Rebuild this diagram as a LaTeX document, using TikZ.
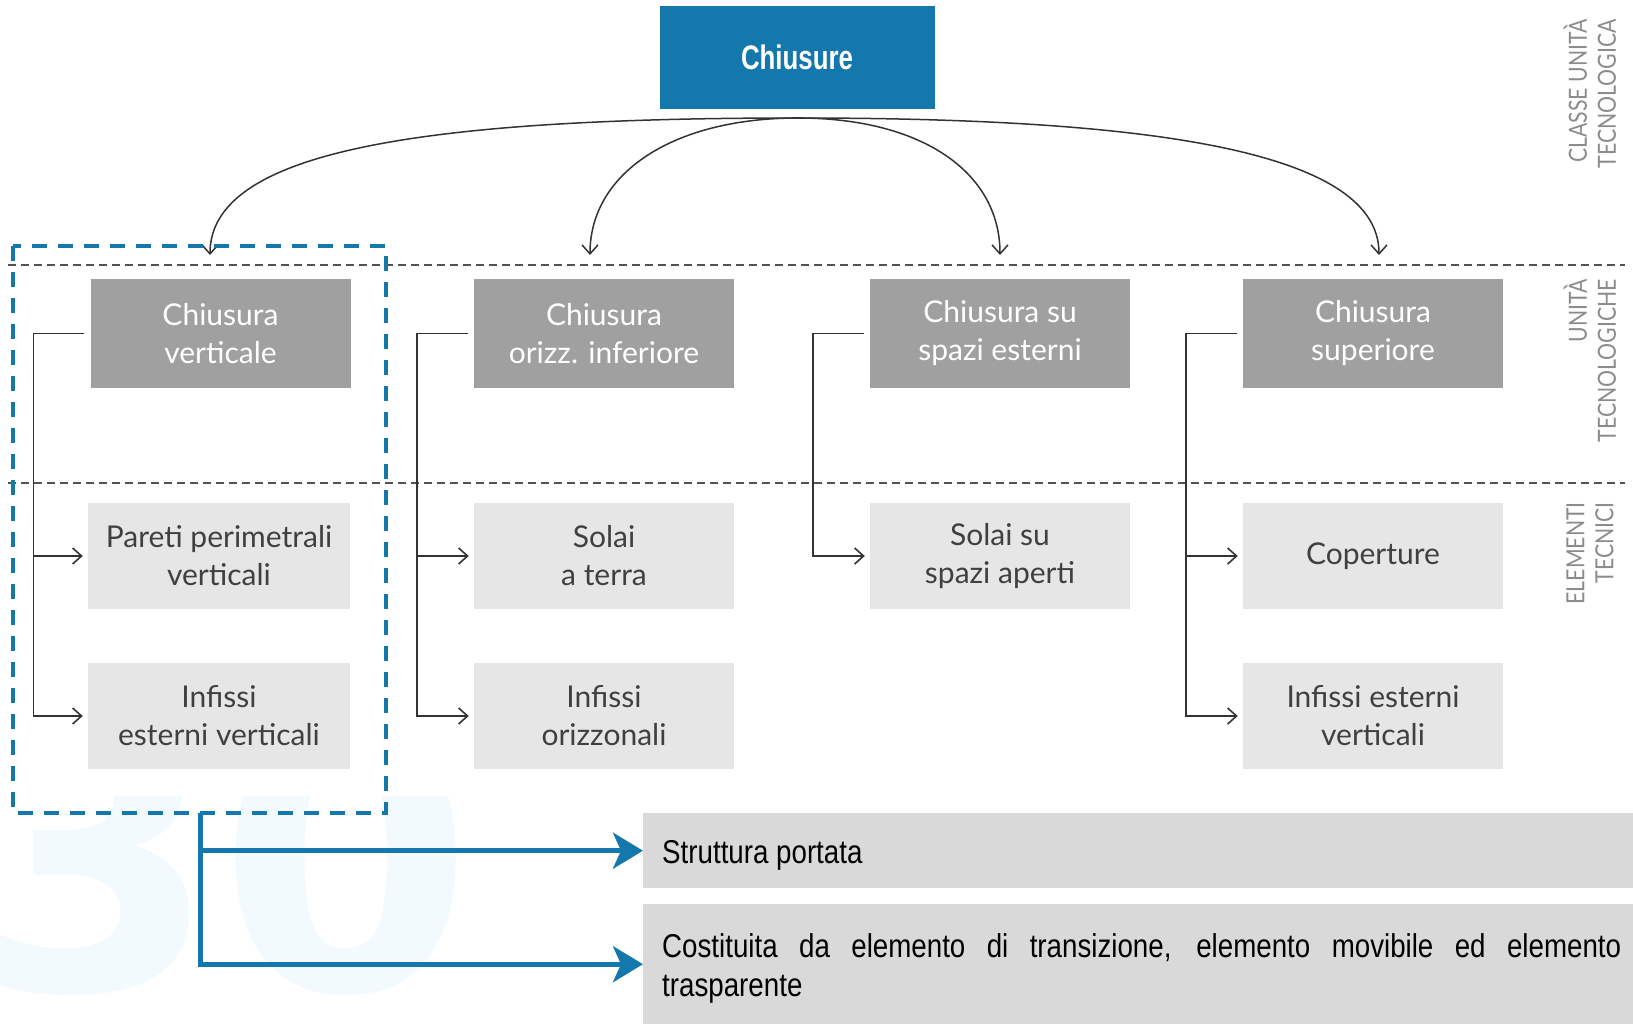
\documentclass[tikz,border=0pt]{standalone}
\usepackage{fontspec}
\setmainfont{Lato}
\newfontfamily\condfont[FakeStretch=0.84]{Liberation Sans}
\newfontfamily\titlefont[FakeStretch=0.76]{Liberation Sans}
\newfontfamily\sidefont[FakeStretch=0.85]{Lato}
\newfontfamily\markfont{DejaVu Sans}
\usetikzlibrary{arrows.meta,positioning}

\definecolor{chblue}{RGB}{20,120,172}
\definecolor{hdrgray}{RGB}{160,160,160}
\definecolor{itemgray}{RGB}{230,230,230}
\definecolor{notegray}{RGB}{217,217,217}
\definecolor{linegray}{RGB}{51,51,51}
\definecolor{textgray}{RGB}{64,64,64}
\definecolor{sidegray}{RGB}{140,140,140}
\definecolor{markblue}{RGB}{243,250,254}

\tikzset{
    unit/.style={fill=hdrgray, text=white, align=center, inner sep=0pt,
        minimum width=260pt, minimum height=109pt,
        font=\fontsize{30}{38}\selectfont},
    element/.style={unit, fill=itemgray, text=textgray, minimum height=106pt},
    tree/.style={draw=linegray, line width=1.6pt,
        -{Straight Barb[length=9pt,width=16pt,line width=1.6pt]}},
    fork/.style={draw=linegray, line width=1.5pt,
        -{Straight Barb[length=9pt,width=16pt,line width=1.5pt]}},
    level/.style={draw=linegray!85, line width=1.1pt, dash pattern=on 8pt off 5pt},
    note/.style={fill=notegray, anchor=north west, inner xsep=19pt, inner ysep=0pt,
        text width=959pt, text height=33pt, align=justify,
        font=\condfont\fontsize{33}{39}\selectfont},
    sidelbl/.style={rotate=90, anchor=east, align=right, inner sep=0pt,
        text=sidegray, font=\sidefont\fontsize{25}{29}\selectfont},
}
% bracket from a unit to one of its elements
\newcommand\UnitLink[2]{%
    \draw[tree] ([xshift=-6pt]#1.west) -- ++(-51,0) |- ([xshift=-5pt]#2.west);
}

\begin{document}
\begin{tikzpicture}[x=1pt,y=-1pt]
    \useasboundingbox (0,0) rectangle (1633,1024);
    % watermark
    \begin{scope}
        \clip (0,796) rectangle (1633,1024);
        \node[anchor=base west, inner sep=0pt, text=markblue,
            font=\markfont\bfseries\fontsize{367}{367}\selectfont] (wm) at (-37,990) {30};
    \end{scope}

    % levels
    \draw[level] (8,265) -- (1625,265);
    \draw[level] (8,483) -- (1625,483);
    \node[sidelbl] (lcl) at (1590,19) {CLASSE UNITÀ\\TECNOLOGICA};
    \node[sidelbl] (lut) at (1590,279) {UNITÀ\\TECNOLOGICHE};
    \node[sidelbl] (let) at (1590,502) {ELEMENTI\\TECNICI};

    % class
    \node[fill=chblue, text=white, minimum width=275pt, minimum height=103pt, inner sep=0pt,
        font=\titlefont\bfseries\fontsize{34}{40}\selectfont] (cl) at (797,57.5) {Chiusure};
    \coordinate (hub) at (798,118);

    % units
    \node[unit] (u1) at (220.5,333.5) {Chiusura\\verticale};
    \node[unit] (u2) at (604,333.5) {Chiusura\\orizz. inferiore};
    \node[unit] (u3) at (1000,333.5) {Chiusura su\\spazi esterni};
    \node[unit] (u4) at (1373,333.5) {Chiusura\\superiore};

    % elements
    \node[element, minimum width=262pt] (e1a) at (219,556) {Pareti perimetrali\\verticali};
    \node[element, minimum width=262pt] (e1b) at (219,716) {Infissi\\esterni verticali};
    \node[element] (e2a) at (604,556) {Solai\\a terra};
    \node[element] (e2b) at (604,716) {Infissi\\orizzonali};
    \node[element] (e3a) at (1000,556) {Solai su\\spazi aperti};
    \node[element] (e4a) at (1373,556) {Coperture};
    \node[element] (e4b) at (1373,716) {Infissi esterni\\verticali};

    % class -> units
    \coordinate (t1) at (210,255);
    \coordinate (t2) at (590,255);
    \coordinate (t3) at (1000,255);
    \coordinate (t4) at (1379,255);
    \draw[fork] (hub) .. controls +(-382,0) and +(0,-103) .. (t1);
    \draw[fork] (hub) .. controls +(-125,0) and +(0,-82) .. (t2);
    \draw[fork] (hub) .. controls +(125,0) and +(0,-82) .. (t3);
    \draw[fork] (hub) .. controls +(358,0) and +(0,-103) .. (t4);

    % units -> elements
    \UnitLink{u1}{e1a}
    \UnitLink{u1}{e1b}
    \UnitLink{u2}{e2a}
    \UnitLink{u2}{e2b}
    \UnitLink{u3}{e3a}
    \UnitLink{u4}{e4a}
    \UnitLink{u4}{e4b}

    % notes
    \node[note, minimum height=75pt] (sp) at (643,813) {Struttura portata};
    \node[note, minimum height=120pt] (co) at (643,904)
        {Costituita da elemento di transizione, elemento movibile ed elemento\linebreak trasparente};

    \begin{scope}[color=chblue] % selection
        \draw[line width=4pt, dash pattern=on 15pt off 11pt] (13,246) rectangle (386,813);
        \coordinate (fb) at (200,813);
        \draw[line width=5pt, -{Stealth[length=30pt,width=36pt,inset=8pt]}] (fb) |- (sp.west);
        \draw[line width=5pt, -{Stealth[length=30pt,width=36pt,inset=8pt]}] (fb) |- (co.west);
    \end{scope}
\end{tikzpicture}
\end{document}
